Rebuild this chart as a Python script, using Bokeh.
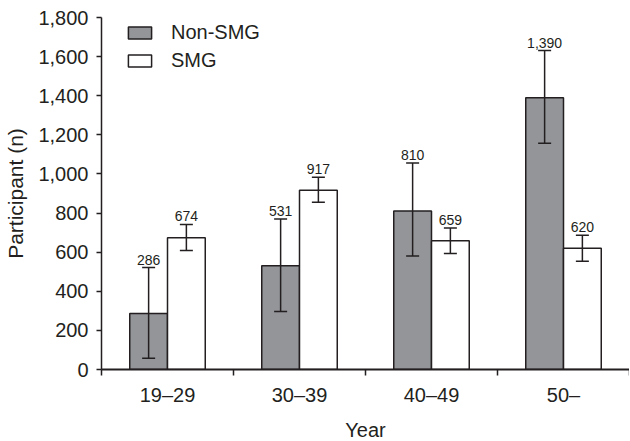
from bokeh.plotting import figure
from bokeh.models import (ColumnDataSource, Whisker, TeeHead, FixedTicker, Range1d,
                          NumeralTickFormatter, Legend, LegendItem)
from bokeh.core.properties import value
from bokeh.embed import file_html
from bokeh.resources import INLINE

categories = ["19\u201329", "30\u201339", "40\u201349", "50\u2013"]
non_smg = [286, 531, 810, 1390]
smg = [674, 917, 659, 620]
non_smg_upper = [521, 770, 1056, 1631]
non_smg_lower = [58, 297, 580, 1157]
smg_upper = [742, 983, 723, 686]
smg_lower = [609, 855, 593, 554]
non_smg_labels = ["286", "531", "810", "1,390"]
smg_labels = ["674", "917", "659", "620"]
y_ticks = [0, 200, 400, 600, 800, 1000, 1200, 1400, 1600, 1800]

FONT = "Liberation Sans"
TXT = "#231f20"
GRAY = "#939598"

n = len(categories)
centers = [i + 0.5 for i in range(n)]
off = 0.143
bw = 0.286

src_a = ColumnDataSource(dict(x=[c - off for c in centers], top=non_smg,
                              upper=non_smg_upper, lower=non_smg_lower, lab=non_smg_labels))
src_b = ColumnDataSource(dict(x=[c + off for c in centers], top=smg,
                              upper=smg_upper, lower=smg_lower, lab=smg_labels))

p = figure(frame_width=528, frame_height=352, output_backend="svg", toolbar_location=None,
           x_range=Range1d(0, n), y_range=Range1d(0, 1800),
           min_border_left=101, min_border_right=0, min_border_top=17, min_border_bottom=0)
p.outline_line_color = None
p.xgrid.visible = False
p.ygrid.visible = False
p.background_fill_color = "white"

ra = p.vbar(x="x", top="top", width=bw, source=src_a, fill_color=GRAY,
            line_color=TXT, line_width=1.5)
rb = p.vbar(x="x", top="top", width=bw, source=src_b, fill_color="white",
            line_color=TXT, line_width=1.5)

for src in (src_a, src_b):
    w = Whisker(base="x", upper="upper", lower="lower", source=src, level="overlay",
                line_color=TXT, line_width=1.5,
                upper_head=TeeHead(size=13, line_color=TXT, line_width=1.5),
                lower_head=TeeHead(size=13, line_color=TXT, line_width=1.5))
    p.add_layout(w)
    p.text(x="x", y="upper", text="lab", source=src, text_align="center",
           text_baseline="alphabetic", y_offset=-8, text_font=value(FONT),
           text_font_size="14px", text_color=TXT)

# y axis
ya = p.yaxis[0]
ya.ticker = FixedTicker(ticks=y_ticks)
ya.formatter = NumeralTickFormatter(format="0,0")
ya.axis_label = "Participant (n)"
ya.axis_label_text_font = FONT
ya.axis_label_text_font_style = "normal"
ya.axis_label_text_font_size = "21px"
ya.axis_label_text_color = TXT
ya.axis_label_standoff = 8
ya.major_label_text_font = FONT
ya.major_label_text_font_size = "20px"
ya.major_label_text_color = TXT
ya.major_label_standoff = 8
ya.major_tick_out = 5
ya.major_tick_in = 0
ya.minor_tick_out = 0
ya.minor_tick_in = 0
ya.axis_line_color = TXT
ya.axis_line_width = 1.5
ya.major_tick_line_color = TXT
ya.major_tick_line_width = 1.5

# x axis
xa = p.xaxis[0]
xa.ticker = FixedTicker(ticks=centers, minor_ticks=list(range(n + 1)))
xa.major_label_overrides = {c: lab for c, lab in zip(centers, categories)}
xa.axis_label = "Year"
xa.axis_label_text_font = FONT
xa.axis_label_text_font_style = "normal"
xa.axis_label_text_font_size = "20px"
xa.axis_label_text_color = TXT
xa.axis_label_standoff = 10
xa.major_label_text_font = FONT
xa.major_label_text_font_size = "20px"
xa.major_label_text_color = TXT
xa.major_label_standoff = 8
xa.major_tick_out = 0
xa.major_tick_in = 0
xa.minor_tick_out = 6
xa.minor_tick_in = 0
xa.minor_tick_line_color = TXT
xa.minor_tick_line_width = 1.5
xa.axis_line_color = TXT
xa.axis_line_width = 2

legend = Legend(items=[LegendItem(label="Non-SMG", renderers=[ra]),
                       LegendItem(label="SMG", renderers=[rb])],
                location=(24, 297), padding=0, margin=0, spacing=5,
                glyph_width=29, glyph_height=15, label_height=20,
                label_standoff=17, label_text_font=FONT, label_text_font_size="20px",
                label_text_color=TXT, border_line_color=None,
                background_fill_alpha=0)
p.add_layout(legend, "center")

open("out.html", "w").write(file_html(p, INLINE))
